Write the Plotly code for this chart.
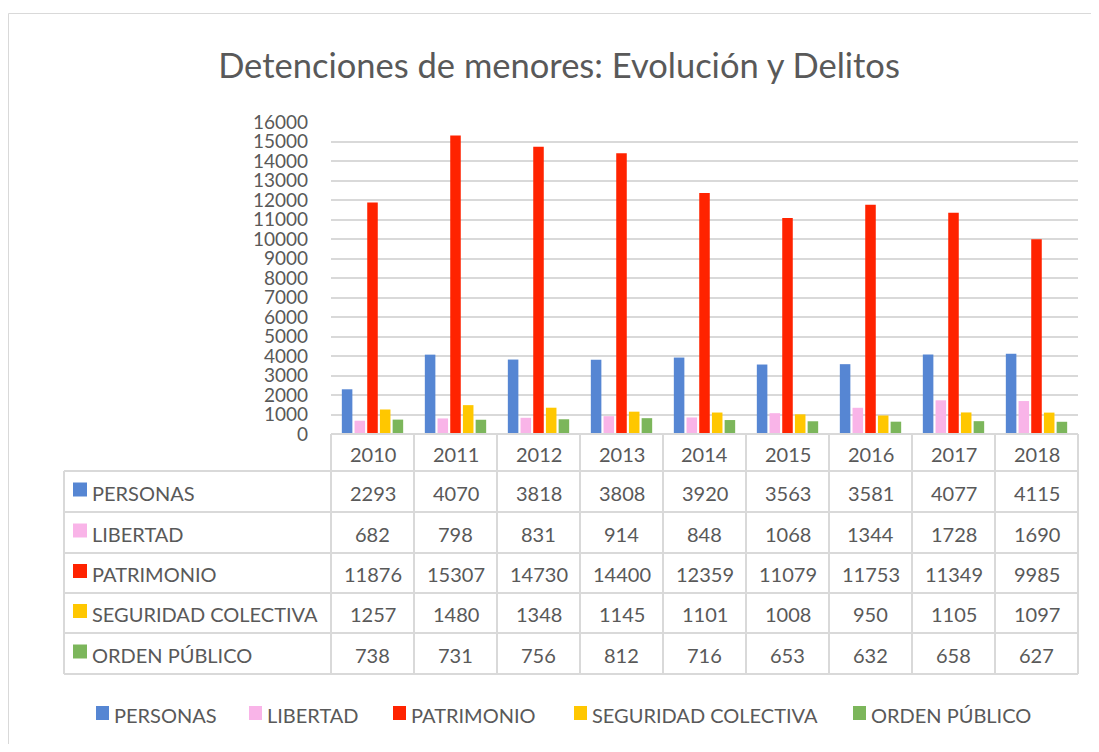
import plotly.graph_objects as go

years = ["2010", "2011", "2012", "2013", "2014", "2015", "2016", "2017", "2018"]
series_names = ["PERSONAS", "LIBERTAD", "PATRIMONIO", "SEGURIDAD COLECTIVA", "ORDEN PÚBLICO"]
personas = [2293, 4070, 3818, 3808, 3920, 3563, 3581, 4077, 4115]
libertad = [682, 798, 831, 914, 848, 1068, 1344, 1728, 1690]
patrimonio = [11876, 15307, 14730, 14400, 12359, 11079, 11753, 11349, 9985]
seguridad = [1257, 1480, 1348, 1145, 1101, 1008, 950, 1105, 1097]
orden = [738, 731, 756, 812, 716, 653, 632, 658, 627]
colors = ["#5686D3", "#F9B4E8", "#FF2300", "#FFC700", "#7CB65B"]
title_text = "Detenciones de menores: Evolución y Delitos"

values = [personas, libertad, patrimonio, seguridad, orden]

# page body has an 8px margin; figure sized to fit the window without scrollbars
OFF = 8
W, H = 1083, 736
L, T = 323, 114
PW, PH = 747, 312
R = W - L - PW
B = H - T - PH
FONT = "Lato"
TXT = "#595959"
GRID = "#D9D9D9"


def px2x(px):
    """screen pixel x -> paper x"""
    return (px - OFF - L) / PW


def py2y(py):
    """screen pixel y -> paper y"""
    return (T + PH - (py - OFF)) / PH


fig = go.Figure()
for name, vals, col in zip(series_names, values, colors):
    fig.add_trace(go.Bar(x=years, y=vals, name=name, marker_color=col,
                         marker_line_width=0, showlegend=False))

shapes = []
annotations = []

# outer chart border
shapes.append(dict(type="rect", xref="paper", yref="paper",
                   x0=px2x(8.5), x1=px2x(1130), y0=py2y(13.5), y1=py2y(800),
                   line=dict(color="#D9D9D9", width=1), layer="below"))

# data table grid (screen pixel positions)
plot_left = OFF + L
row_edges = [434, 471, 512, 553, 593, 633, 674]
col_edges = [plot_left + i * PW / len(years) for i in range(len(years) + 1)]
tbl_left = 64
for i, yy in enumerate(row_edges):
    x0 = plot_left if i == 0 else tbl_left
    shapes.append(dict(type="line", xref="paper", yref="paper",
                       x0=px2x(x0), x1=px2x(col_edges[-1]), y0=py2y(yy), y1=py2y(yy),
                       line=dict(color=GRID, width=2)))
for cx in col_edges:
    shapes.append(dict(type="line", xref="paper", yref="paper",
                       x0=px2x(cx), x1=px2x(cx), y0=py2y(row_edges[0]), y1=py2y(row_edges[-1]),
                       line=dict(color=GRID, width=2)))
shapes.append(dict(type="line", xref="paper", yref="paper",
                   x0=px2x(tbl_left), x1=px2x(tbl_left), y0=py2y(row_edges[1]), y1=py2y(row_edges[-1]),
                   line=dict(color=GRID, width=2)))

# header years
for j, yr in enumerate(years):
    annotations.append(dict(xref="paper", yref="paper",
                            x=px2x((col_edges[j] + col_edges[j + 1]) / 2),
                            y=py2y((row_edges[0] + row_edges[1]) / 2 + 1),
                            text=yr, showarrow=False, xanchor="center", yanchor="middle",
                            font=dict(family=FONT, size=20, color=TXT)))

# rows
for i, (name, vals, col) in enumerate(zip(series_names, values, colors)):
    yc = (row_edges[i + 1] + row_edges[i + 2]) / 2 + 1
    shapes.append(dict(type="rect", xref="paper", yref="paper",
                       x0=px2x(73), x1=px2x(87), y0=py2y(yc - 10), y1=py2y(yc + 4),
                       fillcolor=col, line=dict(width=0)))
    annotations.append(dict(xref="paper", yref="paper", x=px2x(90), y=py2y(yc),
                            text=name, showarrow=False, xanchor="left", yanchor="middle",
                            font=dict(family=FONT, size=20, color=TXT)))
    for j, v in enumerate(vals):
        annotations.append(dict(xref="paper", yref="paper",
                                x=px2x((col_edges[j] + col_edges[j + 1]) / 2), y=py2y(yc),
                                text=str(v), showarrow=False, xanchor="center", yanchor="middle",
                                font=dict(family=FONT, size=20, color=TXT)))

# bottom legend
leg_sq = [96, 249, 393, 574, 853]
leg_y = 715
for name, col, sx in zip(series_names, colors, leg_sq):
    shapes.append(dict(type="rect", xref="paper", yref="paper",
                       x0=px2x(sx), x1=px2x(sx + 13), y0=py2y(leg_y + 5), y1=py2y(leg_y - 9),
                       fillcolor=col, line=dict(width=0)))
    annotations.append(dict(xref="paper", yref="paper", x=px2x(sx + 16), y=py2y(leg_y),
                            text=name, showarrow=False, xanchor="left", yanchor="middle",
                            font=dict(family=FONT, size=20, color=TXT)))

fig.update_layout(
    width=W, height=H,
    margin=dict(l=L, r=R, t=T, b=B),
    paper_bgcolor="white", plot_bgcolor="white",
    title=dict(text=title_text, x=(559 - OFF) / W, xanchor="center", xref="container",
               y=1 - (66 - OFF) / H, yanchor="middle", yref="container",
               font=dict(family=FONT, size=34.5, color=TXT)),
    barmode="group", bargap=0.235, bargroupgap=0.17,
    shapes=shapes, annotations=annotations,
    showlegend=False,
)
fig.update_xaxes(showticklabels=False, showline=False, showgrid=False, ticks="",
                 zeroline=False)
fig.update_yaxes(range=[0, 16000], dtick=1000, tickformat="d", showgrid=True,
                 gridcolor=GRID, gridwidth=2,
                 zeroline=False, showline=False, ticks="",
                 tickfont=dict(family=FONT, size=19, color=TXT), ticklabelstandoff=22)

fig.write_html("out.html")
